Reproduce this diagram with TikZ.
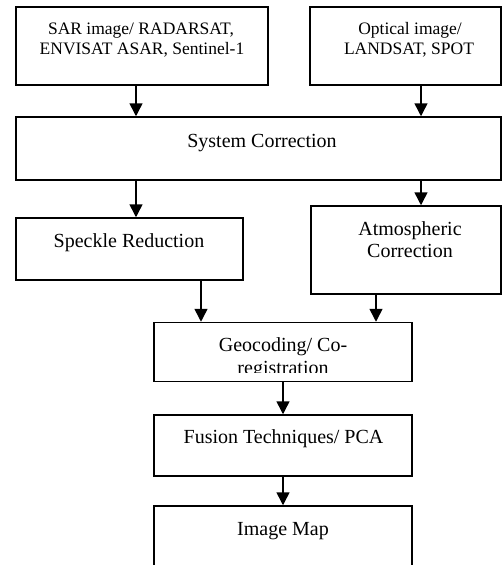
\documentclass[tikz,border=0pt]{standalone}
\usepackage{fontspec}
\setmainfont{Liberation Serif}
\usetikzlibrary{arrows.meta}
\begin{document}
\begin{tikzpicture}[x=1pt,y=-1pt,
  box/.style={draw,line width=1.5pt,inner sep=0pt},
  txt/.style={inner sep=0pt,anchor=base,font=\fontsize{20}{24}\selectfont},
  txts/.style={inner sep=0pt,anchor=base,font=\fontsize{17.5}{21}\selectfont},
  arr/.style={line width=1.5pt,-{Triangle[width=13pt,length=13pt]}}]
\useasboundingbox (0,0) rectangle (502,565);
% boxes
\node[box,minimum width=252pt,minimum height=78pt] (sar) at (142,46) {};
\node[box,minimum width=191pt,minimum height=78pt] (opt) at (405.5,46) {};
\node[box,minimum width=485pt,minimum height=63pt] (sys) at (258.5,148.5) {};
\node[box,minimum width=227pt,minimum height=62pt] (spk) at (129.5,249) {};
\node[box,minimum width=190pt,minimum height=88pt] (atm) at (406,250) {};
\node[box,minimum width=258pt,minimum height=59pt] (geo) at (283,352) {};
\node[box,minimum width=258pt,minimum height=61pt] (fus) at (283,445.5) {};
\node[box,minimum width=258pt,minimum height=80pt] (img) at (283,546) {};
% texts
\node[txts] (sar1) at (141,34) {SAR image/ RADARSAT,};
\node[txts] (sar2) at (142,54) {ENVISAT ASAR, Sentinel-1};
\node[txts] (opt1) at (410,34) {Optical image/};
\node[txts] (opt2) at (409,54) {LANDSAT, SPOT};
\node[txt] (sys1) at (262,147.5) {System Correction};
\node[txt] (spk1) at (129,247.5) {Speckle Reduction};
\node[txt] (atm1) at (410,235) {Atmospheric};
\node[txt] (atm2) at (410,257) {Correction};
\node[txt] (geo1) at (283,351.5) {Geocoding/ Co-};
\begin{scope}
\clip (154,358) rectangle (412,372.5);
\node[txt] (geo2) at (283,374) {registration};
\end{scope}
\node[txt] (fus1) at (283.5,443.3) {Fusion Techniques/ PCA};
\node[txt] (img1) at (283,535) {Image Map};
% arrows
\draw[arr] (136,0 |- sar.south) -- (136,0 |- sys.north);
\draw[arr] (421,0 |- opt.south) -- (421,0 |- sys.north);
\draw[arr] (136,0 |- sys.south) -- (136,0 |- spk.north);
\draw[arr] (421,0 |- sys.south) -- (421,0 |- atm.north);
\draw[arr] (201,0 |- spk.south) -- (201,0 |- geo.north);
\draw[arr] (376,0 |- atm.south) -- (376,0 |- geo.north);
\draw[arr] (geo.south) -- (fus.north);
\draw[arr] (fus.south) -- (img.north);
\end{tikzpicture}
\end{document}
